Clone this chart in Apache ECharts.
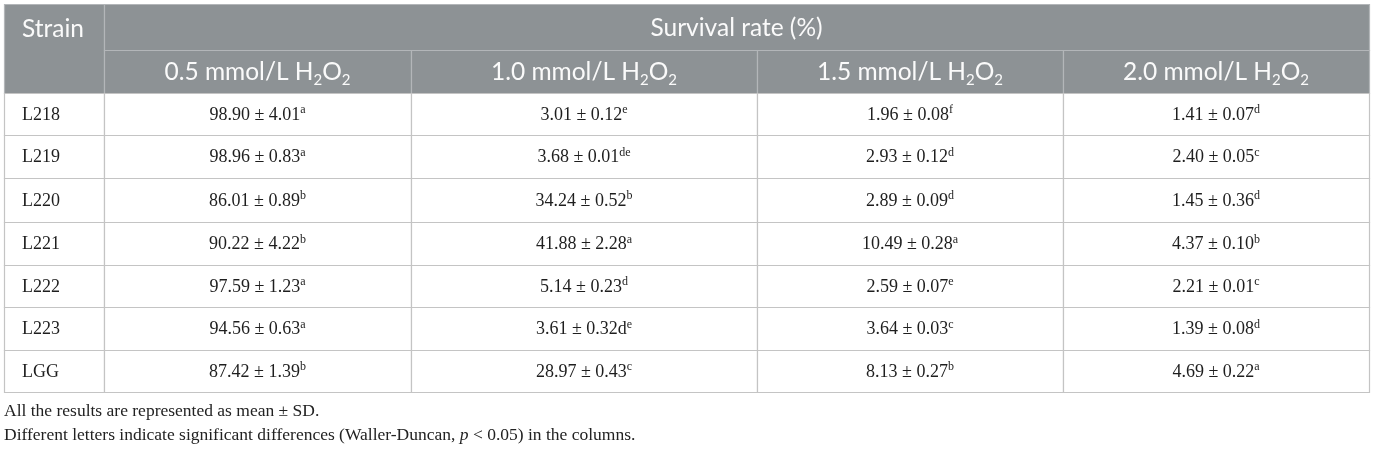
<!DOCTYPE html>
<html>
<head>
<meta charset="utf-8">
<script src="https://cdn.jsdelivr.net/npm/echarts@6/dist/echarts.min.js"></script>
<style>
html,body{margin:0;padding:0;background:#fff;}
#chart{width:1375px;height:450px;}
</style>
</head>
<body>
<div id="chart"></div>
<script>
// ---- data ----
var strains = ['L218', 'L219', 'L220', 'L221', 'L222', 'L223', 'LGG'];
var concentrations = ['0.5', '1.0', '1.5', '2.0'];
var groupTitle = 'Survival rate (%)';
var firstColTitle = 'Strain';
var means05 = [98.90, 98.96, 86.01, 90.22, 97.59, 94.56, 87.42];
var sd05 = [4.01, 0.83, 0.89, 4.22, 1.23, 0.63, 1.39];
var letters05 = ['a', 'a', 'b', 'b', 'a', 'a', 'b'];
var means10 = [3.01, 3.68, 34.24, 41.88, 5.14, 3.61, 28.97];
var sd10 = [0.12, 0.01, 0.52, 2.28, 0.23, 0.32, 0.43];
var letters10 = ['e', 'de', 'b', 'a', 'd', 'd^e', 'c'];
var means15 = [1.96, 2.93, 2.89, 10.49, 2.59, 3.64, 8.13];
var sd15 = [0.08, 0.12, 0.09, 0.28, 0.07, 0.03, 0.27];
var letters15 = ['f', 'd', 'd', 'a', 'e', 'c', 'b'];
var means20 = [1.41, 2.40, 1.45, 4.37, 2.21, 1.39, 4.69];
var sd20 = [0.07, 0.05, 0.36, 0.10, 0.01, 0.08, 0.22];
var letters20 = ['d', 'c', 'd', 'b', 'c', 'd', 'a'];
var footnote1 = 'All the results are represented as mean \u00b1 SD.';
var footnote2a = 'Different letters indicate significant differences (Waller-Duncan, ';
var footnote2p = 'p';
var footnote2b = ' < 0.05) in the columns.';

// ---- layout ----
var colEdges = [4, 104, 411, 757, 1063, 1369];
var rowEdges = [4, 50, 93, 135, 178, 222, 265, 307, 350, 392];
var HEADER_BG = '#8d9295';
var HEADER_LINE = '#b3b6b9';
var BODY_LINE = '#c4c4c4';
var SERIF = '"Liberation Serif", "DejaVu Serif", serif';
var SANS = 'Lato, "Open Sans", sans-serif';

var meansAll = [means05, means10, means15, means20];
var sdAll = [sd05, sd10, sd15, sd20];
var lettersAll = [letters05, letters10, letters15, letters20];

function valueText(m, s, l) {
  var base = m.toFixed(2) + ' \u00b1 ' + s.toFixed(2);
  var parts = l.split('^');
  if (parts.length === 2) { return '{v|' + base + parts[0] + '}{sup|' + parts[1] + '}'; }
  return '{v|' + base + '}{sup|' + l + '}';
}
function concText(c) {
  return '{h|' + c + ' mmol/L H}{sub|2}{h|O}{sub|2}';
}

var cells = [];
cells.push({c0: 0, c1: 1, r0: 0, r1: 2, kind: 'headLeft', text: '{h|' + firstColTitle + '}'});
cells.push({c0: 1, c1: 5, r0: 0, r1: 1, kind: 'head', text: '{h|' + groupTitle + '}'});
concentrations.forEach(function (c, j) {
  cells.push({c0: j + 1, c1: j + 2, r0: 1, r1: 2, kind: 'head', text: concText(c)});
});
strains.forEach(function (s, i) {
  cells.push({c0: 0, c1: 1, r0: i + 2, r1: i + 3, kind: 'bodyLeft', text: '{v|' + s + '}'});
  for (var j = 0; j < 4; j++) {
    cells.push({c0: j + 1, c1: j + 2, r0: i + 2, r1: i + 3, kind: 'body',
      text: valueText(meansAll[j][i], sdAll[j][i], lettersAll[j][i])});
  }
});

var HEAD_COLOR = '#fafafa';
var BODY_COLOR = '#1e1e1e';
var richHead = {
  h: {fontSize: 24.5, fontFamily: SANS, fill: HEAD_COLOR, color: HEAD_COLOR, lineHeight: 30},
  sub: {fontSize: 15, fontFamily: SANS, fill: HEAD_COLOR, color: HEAD_COLOR, lineHeight: 15, verticalAlign: 'bottom'}
};
var richBody = {
  v: {fontSize: 18, fontFamily: SERIF, fill: BODY_COLOR, color: BODY_COLOR, lineHeight: 22},
  sup: {fontSize: 12, fontFamily: SERIF, fill: BODY_COLOR, color: BODY_COLOR, lineHeight: 12, verticalAlign: 'top'}
};

var chart = echarts.init(document.getElementById('chart'), null, {renderer: 'canvas'});
chart.setOption({
  animation: false,
  backgroundColor: '#ffffff',
  grid: {left: 0, right: 0, top: 0, bottom: 0},
  xAxis: {type: 'value', min: 0, max: 1375, show: false},
  yAxis: {type: 'value', min: 0, max: 450, inverse: true, show: false},
  series: [{
    type: 'custom',
    coordinateSystem: 'cartesian2d',
    data: cells.map(function (c) { return [colEdges[c.c0], rowEdges[c.r0], colEdges[c.c1], rowEdges[c.r1]]; }),
    renderItem: function (params, api) {
      var cell = cells[params.dataIndex];
      var p0 = api.coord([api.value(0), api.value(1)]);
      var p1 = api.coord([api.value(2), api.value(3)]);
      var isHead = cell.kind === 'head' || cell.kind === 'headLeft';
      var rect = {
        type: 'rect',
        shape: {x: p0[0] + 0.5, y: p0[1] + 0.5, width: p1[0] - p0[0], height: p1[1] - p0[1]},
        style: {fill: isHead ? HEADER_BG : '#ffffff', stroke: isHead ? HEADER_LINE : BODY_LINE, lineWidth: 1.2}
      };
      var tx, ty, align;
      if (cell.kind === 'headLeft') { tx = p0[0] + 18; ty = p0[1] + 25; align = 'left'; }
      else if (cell.kind === 'bodyLeft') { tx = p0[0] + 18; ty = (p0[1] + p1[1]) / 2 + 1; align = 'left'; }
      else { tx = (p0[0] + p1[0]) / 2; ty = (p0[1] + p1[1]) / 2 + (isHead ? 1 : 1); align = 'center'; }
      var text = {
        type: 'text',
        style: {
          text: cell.text, x: tx, y: ty, align: align, verticalAlign: 'middle',
          rich: isHead ? richHead : richBody,
          fill: isHead ? HEAD_COLOR : BODY_COLOR
        },
        z2: 10
      };
      return {type: 'group', children: [rect, text]};
    }
  }],
  graphic: [
    {type: 'text', left: 4, top: 402, style: {text: footnote1, font: '17.5px ' + SERIF, fill: '#222'}},
    {type: 'text', left: 4, top: 426, style: {
      text: '{n|' + footnote2a + '}{i|' + footnote2p + '}{n|' + footnote2b + '}',
      rich: {
        n: {fontSize: 17.5, fontFamily: SERIF, fill: '#222', color: '#222'},
        i: {fontSize: 17.5, fontFamily: SERIF, fontStyle: 'italic', fill: '#222', color: '#222'}
      }
    }}
  ]
});
</script>
</body>
</html>
